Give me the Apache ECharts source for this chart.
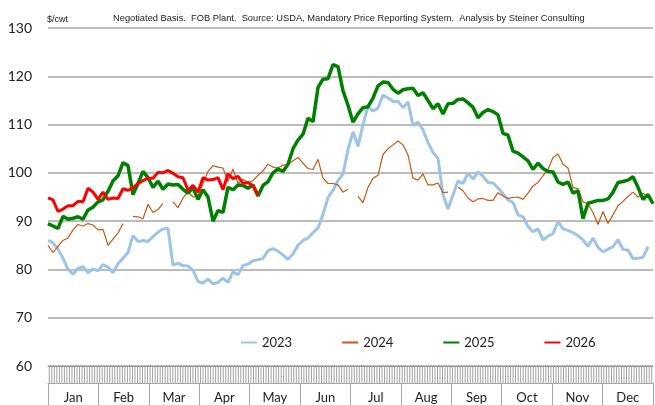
<!DOCTYPE html>
<html>
<head>
<meta charset="utf-8">
<script src="https://cdn.jsdelivr.net/npm/echarts@6/dist/echarts.min.js"></script>
<style>
  html, body { margin: 0; background: #fff; }
  #chart { width: 655px; height: 405px; }
</style>
</head>
<body>
<div id="chart"></div>
<script>
// month labels under the axis
const months = ["Jan", "Feb", "Mar", "Apr", "May", "Jun", "Jul", "Aug", "Sep", "Oct", "Nov", "Dec"];
const years = ["2023", "2024", "2025", "2026"];

// $/cwt, read roughly every 3 days through the year
const y2023 = [
  86.0, 85.5, 84.2, 82.3, 80.0, 79.0, 80.2, 80.6, 79.3, 80.1,
  79.7, 81.0, 80.5, 79.3, 81.2, 82.3, 83.5, 87.0, 85.8, 86.0,
  85.8, 86.8, 87.7, 88.4, 88.5, 80.9, 81.3, 80.8, 80.7, 79.8,
  77.5, 77.2, 78.0, 77.0, 77.3, 78.2, 77.3, 79.5, 78.9, 80.8,
  81.1, 81.8, 82.0, 82.3, 83.9, 84.3, 83.8, 83.0, 82.1, 83.2,
  85.0, 86.0, 86.5, 87.6, 88.6, 91.4, 94.9, 96.4, 98.4, 99.8,
  104.8, 108.5, 105.5, 110.0, 113.8, 112.8, 113.4, 116.1, 115.5, 114.8,
  114.8, 113.5, 114.7, 109.8, 110.5, 108.9, 106.3, 104.2, 103.0, 95.5,
  92.5, 95.4, 98.3, 97.8, 99.9, 98.7, 100.2, 99.3, 98.0, 97.9,
  96.9, 95.7, 94.4, 93.9, 91.3, 90.9, 88.9, 87.8, 88.4, 86.1,
  86.9, 87.4, 89.9, 88.4, 88.1, 87.6, 87.0, 86.1, 84.8, 86.5,
  84.6, 83.6, 84.2, 84.7, 86.2, 84.1, 84.0, 82.2, 82.3, 82.5,
  84.7, null
];
const y2024 = [
  85.0, 83.5, 84.8, 86.0, 86.5, 88.2, 89.3, 89.0, 89.5, 89.2,
  88.2, 88.3, 85.0, 86.3, 87.5, 89.5, null, 91.0, 90.9, 90.5,
  93.5, 91.8, 92.4, 93.7, null, 94.0, 92.8, 94.8, 96.1, 95.0,
  95.2, 97.8, 100.3, 101.5, 101.2, 101.0, 98.2, 100.8, 97.8, 98.7,
  98.0, 98.4, 99.5, 100.4, 101.8, 101.2, 101.0, 101.6, 101.7, 102.5,
  103.2, 102.0, 100.9, 100.7, 102.8, 98.9, 97.8, 97.8, 97.5, 96.0,
  96.6, null, 95.2, 93.8, 97.0, 98.9, 99.5, 103.8, 105.0, 105.8,
  106.6, 105.8, 103.7, 98.9, 98.5, 99.8, 97.5, 97.5, 97.9, 95.9,
  96.0, null, 97.0, 96.3, 94.8, 94.0, 94.6, 94.7, 94.3, 94.3,
  95.9, 95.2, 94.7, 94.9, 95.0, 94.5, 95.8, 97.3, 98.0, 99.4,
  100.7, 103.2, 103.9, 101.8, 101.0, 97.0, 96.7, 94.0, 93.6, 91.8,
  89.3, 92.0, 89.5, 91.3, 93.2, 94.1, 95.1, 96.0, 95.0, 95.8,
  94.8, null
];
const y2025 = [
  89.5, 89.0, 88.5, 91.0, 90.4, 90.6, 90.9, 90.4, 92.3, 92.9,
  94.0, 94.4, 96.2, 98.3, 99.4, 102.1, 101.5, 95.5, 97.8, 100.3,
  99.0, 97.0, 98.3, 96.6, 97.7, 97.5, 97.6, 96.6, 95.8, 96.9,
  94.5, 96.5, 95.0, 90.0, 92.2, 91.8, 97.0, 96.5, 97.5, 97.4,
  96.8, 97.5, 95.2, 97.4, 98.2, 100.0, 100.8, 100.3, 101.8, 105.0,
  106.8, 108.0, 111.3, 110.6, 117.7, 119.4, 119.5, 122.4, 122.0, 117.0,
  114.0, 110.5, 112.2, 113.5, 113.7, 115.5, 118.0, 118.8, 118.7, 117.3,
  116.5, 117.2, 117.4, 117.5, 116.0, 116.6, 115.0, 113.3, 114.3, 112.2,
  114.3, 114.4, 115.2, 115.3, 114.5, 113.6, 111.4, 112.5, 113.1, 112.7,
  112.0, 108.2, 107.8, 104.5, 104.1, 103.3, 102.5, 100.7, 102.0, 100.9,
  100.3, 100.2, 98.1, 97.6, 98.1, 95.8, 96.3, 90.5, 93.7, 94.0,
  94.3, 94.3, 94.6, 96.0, 98.0, 98.2, 98.5, 99.2, 97.0, 94.5,
  95.5, 93.6
];
const y2026 = [
  94.8, 94.4, 92.0, 92.5, 93.2, 93.2, 94.1, 94.0, 96.8, 96.0,
  94.5, 96.0, 94.5, 94.8, 94.7, 96.7, 96.4, 96.9, 97.8, 98.4,
  98.9, 98.9, 100.1, 100.0, 100.5, 99.9, 99.2, 99.0, 96.4, 97.4,
  96.0, 99.0, 98.5, 98.6, 99.0, 96.5, 99.8, 98.8, 99.3, 97.8,
  98.0, 97.3, 95.4
];

const points = y2025.map((_, i) => "p" + i);
// decoration only: one thin full-height bar per day slot makes the grey tick strip
const daySlots = Array.from({ length: 240 }, (_, i) => "d" + i);
const stripFill = daySlots.map(() => 1);

const colors = ["#9dc3e6", "#c55a11", "#008000", "#ff0000"];
const widths = [3, 1.2, 3.5, 3];
const values = [y2023, y2024, y2025, y2026];

const chart = echarts.init(document.getElementById("chart"));
chart.setOption({
  animation: false,
  title: [
    {
      text: "$/cwt",
      left: 42,
      top: 10,
      textStyle: { fontSize: 9, fontWeight: "normal", fontFamily: "Liberation Sans", color: "#222" },
    },
    {
      text: "Negotiated Basis.  FOB Plant.  Source: USDA, Mandatory Price Reporting System.  Analysis by Steiner Consulting",
      left: 108,
      top: 9,
      textStyle: { fontSize: 9.3, fontWeight: "normal", fontFamily: "Liberation Sans", color: "#222" },
    },
  ],
  legend: {
    data: years,
    left: 235,
    top: 331,
    itemWidth: 16,
    itemHeight: 10,
    itemGap: 49,
    itemStyle: { opacity: 0 },
    textStyle: { fontSize: 13, fontFamily: "Lato", color: "#222" },
  },
  grid: [
    { left: 48, right: 2, top: 28, bottom: 39, outerBoundsMode: "none" },
    // strip of day ticks + month cells under the plot
    { left: 48, right: 2, top: 366, height: 17, outerBoundsMode: "none" },
  ],
  xAxis: [
    { type: "category", gridIndex: 0, data: points, boundaryGap: false, show: false },
    {
      type: "category",
      gridIndex: 1,
      data: months,
      position: "bottom",
      axisLine: { show: true, onZero: false, lineStyle: { color: "#a6a6a6" } },
      axisTick: { show: true, interval: 0, length: 22, lineStyle: { color: "#a6a6a6" } },
      axisLabel: { interval: 0, color: "#222", fontSize: 13, fontFamily: "Lato", margin: 8 },
      splitLine: { show: false },
    },
    {
      type: "category",
      gridIndex: 1,
      data: daySlots,
      position: "top",
      axisLine: { show: true, onZero: false, lineStyle: { color: "#8c8c8c", width: 1 } },
      axisTick: { show: false },
      axisLabel: { show: false },
      splitLine: { show: false },
    },
  ],
  yAxis: [
    {
      type: "value",
      gridIndex: 0,
      min: 60,
      max: 130,
      interval: 10,
      axisLine: { show: false },
      axisTick: { show: false },
      axisLabel: { color: "#222", fontSize: 14, fontFamily: "Lato", margin: 16 },
      splitLine: { lineStyle: { color: "#a6a6a6", width: 1.5 } },
    },
    { type: "value", gridIndex: 1, show: false, min: 0, max: 1 },
  ],
  series: [
    ...years.map((name, k) => ({
      name: name,
      type: "line",
      xAxisIndex: 0,
      yAxisIndex: 0,
      data: values[k],
      symbol: "none",
      color: colors[k],
      lineStyle: { color: colors[k], width: widths[k] },
      z: 2 + k,
    })),
    {
      name: "strip",
      type: "bar",
      xAxisIndex: 2,
      yAxisIndex: 1,
      data: stripFill,
      barWidth: 1,
      silent: true,
      itemStyle: { color: "#a3a3a3" },
      z: 1,
    },
  ],
});
</script>
</body>
</html>
